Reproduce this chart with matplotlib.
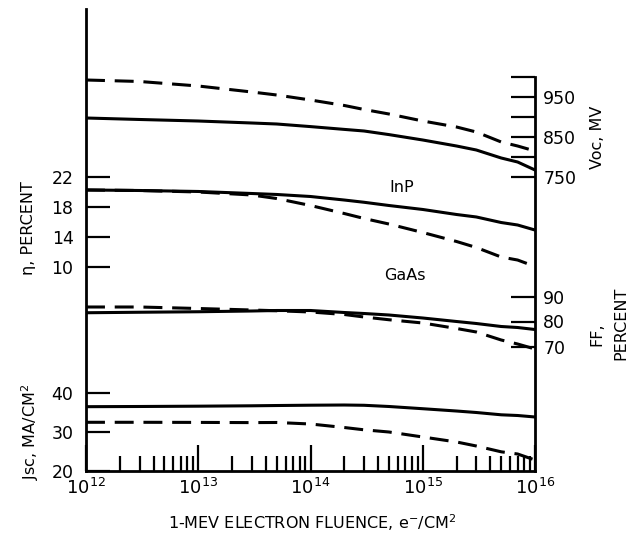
import matplotlib
matplotlib.use("Agg")
import matplotlib.pyplot as plt
from matplotlib.ticker import NullFormatter

# ---- data ----
fluence = [1e12, 3e12, 1e13, 3e13, 5e13, 1e14, 2e14, 3e14, 5e14,
           1e15, 2e15, 3e15, 5e15, 7e15, 1e16]

voc_inp = [897.5, 893.8, 890, 885, 882.5, 876, 869, 865, 856,
           842.5, 827.5, 817.5, 797.5, 787.5, 767.5]
voc_gaas = [992.5, 988.8, 977.5, 962.5, 955, 942.5, 928.8, 918.8, 907.5,
            890, 875, 862.5, 837.5, 827.5, 815]
eta_inp = [20.27, 20.2, 20.07, 19.8, 19.67, 19.4, 18.93, 18.63, 18.2,
           17.67, 17.0, 16.67, 15.93, 15.6, 14.93]
eta_gaas = [20.27, 20.2, 20.0, 19.6, 19.13, 18.2, 17.13, 16.47, 15.73,
            14.6, 13.4, 12.6, 11.33, 10.93, 10.07]
ff_inp = [83.5, 83.7, 83.9, 84.2, 84.4, 84.4, 83.6, 83.2, 82.6,
          81.4, 80.0, 79.2, 78.0, 77.6, 76.8]
ff_gaas = [85.8, 85.8, 85.2, 84.6, 84.3, 83.8, 82.8, 81.8, 80.7,
           79.4, 77.2, 75.8, 72.6, 71.0, 69.0]
jsc_inp = [36.49, 36.54, 36.62, 36.72, 36.79, 36.87, 36.92, 36.85, 36.54,
           35.97, 35.38, 35.0, 34.41, 34.23, 33.85]
jsc_gaas = [32.49, 32.49, 32.46, 32.41, 32.44, 32.05, 31.15, 30.56, 30.0,
            28.72, 27.44, 26.41, 24.92, 24.36, 22.82]

eta_ticks = [10, 14, 18, 22]
jsc_ticks = [20, 30, 40]
voc_ticks = [750, 850, 950]
voc_minor = [800, 900, 1000]
ff_ticks = [70, 80, 90]

plt.rcParams['font.family'] = ['DejaVu Sans']
plt.rcParams['font.size'] = 12
plt.rcParams['mathtext.fontset'] = 'dejavusans'

W, H = 640, 536
L, R, B, T = 86, 535, 471, 9
fig = plt.figure(figsize=(W / 100, H / 100), dpi=100)
rect = [L / W, 1 - B / H, (R - L) / W, (B - T) / H]

ax_eta = fig.add_axes(rect)
ax_jsc = fig.add_axes(rect, sharex=ax_eta)
ax_voc = fig.add_axes(rect, sharex=ax_eta)
ax_ff = fig.add_axes(rect, sharex=ax_eta)
axes = [ax_eta, ax_jsc, ax_voc, ax_ff]
for a in axes:
    for s in a.spines.values():
        s.set_visible(False)
for a in axes[1:]:
    a.patch.set_visible(False)
    a.tick_params(axis='x', which='both', bottom=False, top=False,
                  labelbottom=False)

LW = 2.2
DASH = (6.2, 3.2)
SPW = 2.0
TKW = 1.6
TKL = 17.3

ax_eta.set_xscale('log')
ax_eta.set_xlim(1e12, 1e16)
ax_eta.spines['left'].set_visible(True)
ax_eta.spines['bottom'].set_visible(True)
ax_eta.spines['left'].set_linewidth(SPW)
ax_eta.spines['bottom'].set_linewidth(SPW)
ax_eta.xaxis.set_minor_formatter(NullFormatter())
ax_eta.tick_params(axis='x', which='major', direction='in', length=18.5,
                   width=TKW, pad=5, labelsize=13)
ax_eta.tick_params(axis='x', which='minor', direction='in', length=10.5,
                   width=TKW)

# efficiency
ax_eta.plot(fluence, eta_inp, color='black', lw=LW)
ax_eta.plot(fluence, eta_gaas, color='black', lw=LW, dashes=DASH)
ax_eta.set_ylim(-17.2, 44.4)
ax_eta.set_yticks(eta_ticks)
ax_eta.tick_params(axis='y', direction='in', length=TKL, width=TKW, pad=9,
                   labelsize=12.5)

# Jsc
ax_jsc.plot(fluence, jsc_inp, color='black', lw=LW)
ax_jsc.plot(fluence, jsc_gaas, color='black', lw=LW, dashes=DASH)
ax_jsc.set_ylim(20, 138.46)
ax_jsc.set_yticks(jsc_ticks)
ax_jsc.tick_params(axis='y', direction='in', length=TKL, width=TKW, pad=9,
                   labelsize=12.5)

# Voc
ax_voc.plot(fluence, voc_inp, color='black', lw=LW)
ax_voc.plot(fluence, voc_gaas, color='black', lw=LW, dashes=DASH)
ax_voc.set_ylim(15, 1170)
ax_voc.yaxis.tick_right()
ax_voc.set_yticks(voc_ticks)
ax_voc.set_yticks(voc_minor, minor=True)
ax_voc.yaxis.set_minor_formatter(NullFormatter())
ax_voc.tick_params(axis='y', which='both', direction='in', length=TKL,
                   width=TKW, pad=6, labelsize=12.5, left=False, right=True)
ax_voc.spines['right'].set_visible(True)
ax_voc.spines['right'].set_linewidth(SPW)
ax_voc.spines['right'].set_bounds(15, 1000)

# FF
ax_ff.plot(fluence, ff_inp, color='black', lw=LW)
ax_ff.plot(fluence, ff_gaas, color='black', lw=LW, dashes=DASH)
ax_ff.set_ylim(20.2, 205)
ax_ff.yaxis.tick_right()
ax_ff.set_yticks(ff_ticks)
ax_ff.tick_params(axis='y', direction='in', length=TKL, width=TKW, pad=6,
                  labelsize=12.5, left=False, right=True)


def px(x, y):
    return x / W, 1 - y / H


fig.text(*px(29, 228), 'η, PERCENT', rotation=90, ha='center', va='center',
         fontsize=11.5)
fig.text(*px(30, 432), 'Jsc, MA/CM$^{2}$', rotation=90, ha='center',
         va='center', fontsize=11.5)
fig.text(*px(598, 137), 'Voc, MV', rotation=90, ha='center', va='center',
         fontsize=11.5)
fig.text(*px(597, 334), 'FF,', rotation=90, ha='center', va='center',
         fontsize=11.5)
fig.text(*px(621, 323), 'PERCENT', rotation=90, ha='center', va='center',
         fontsize=11.5)
fig.text(*px(402, 187), 'InP', ha='center', va='center', fontsize=11.5)
fig.text(*px(405, 276), 'GaAs', ha='center', va='center', fontsize=11.5)
fig.text(*px(312, 523), '1-MEV ELECTRON FLUENCE, e$^{-}$/CM$^{2}$',
         ha='center', va='center', fontsize=11.5)

fig.savefig('out.png', dpi=100)
